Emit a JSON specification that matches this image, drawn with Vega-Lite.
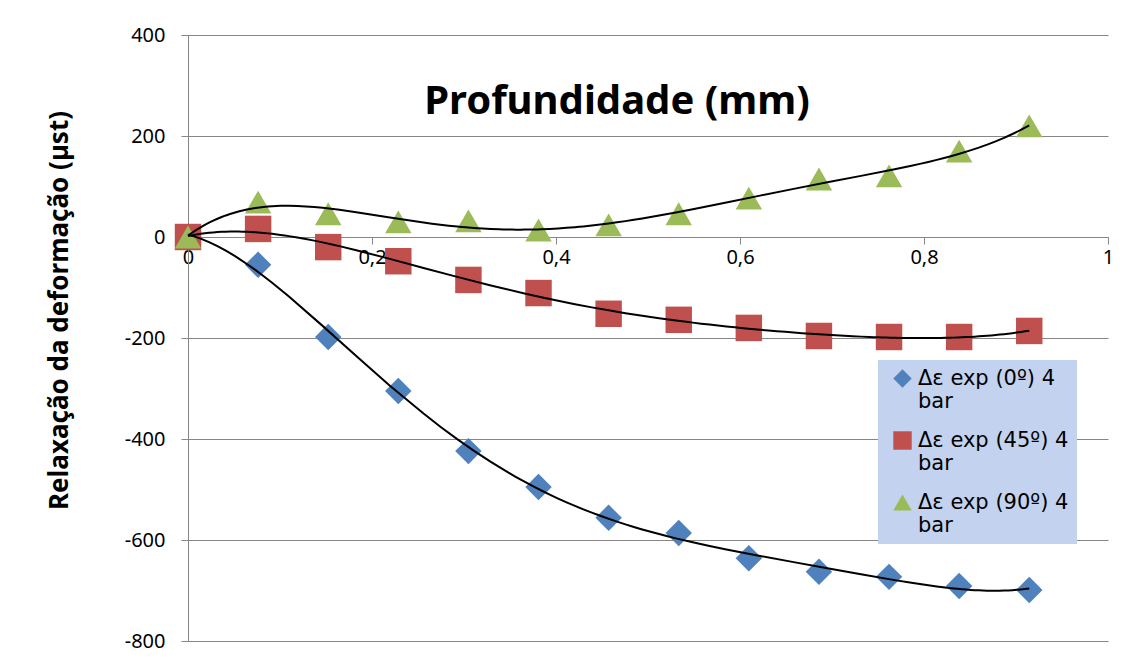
{
  "$schema": "https://vega.github.io/schema/vega-lite/v6.json",
  "width": 920,
  "height": 606,
  "autosize": {"type": "none"},
  "padding": {"left": 188, "top": 35, "right": 16, "bottom": 18},
  "background": "white",
  "title": {
    "text": "Profundidade (mm)",
    "orient": "top",
    "anchor": "middle",
    "offset": -129,
    "baseline": "alphabetic",
    "font": "Noto Sans",
    "fontSize": 40,
    "fontWeight": "bold",
    "color": "black",
    "dx": -31
  },
  "config": {"view": {"stroke": null}, "font": "Noto Sans"},
  "data": {
    "values": [
      {"x": 0, "y": 0, "serie": "Δε exp (0º) 4 bar"},
      {"x": 0.0762, "y": -55, "serie": "Δε exp (0º) 4 bar"},
      {"x": 0.1524, "y": -198, "serie": "Δε exp (0º) 4 bar"},
      {"x": 0.2286, "y": -305, "serie": "Δε exp (0º) 4 bar"},
      {"x": 0.3048, "y": -424, "serie": "Δε exp (0º) 4 bar"},
      {"x": 0.381, "y": -495, "serie": "Δε exp (0º) 4 bar"},
      {"x": 0.4572, "y": -556, "serie": "Δε exp (0º) 4 bar"},
      {"x": 0.5334, "y": -586, "serie": "Δε exp (0º) 4 bar"},
      {"x": 0.6096, "y": -636, "serie": "Δε exp (0º) 4 bar"},
      {"x": 0.6858, "y": -663, "serie": "Δε exp (0º) 4 bar"},
      {"x": 0.762, "y": -673, "serie": "Δε exp (0º) 4 bar"},
      {"x": 0.8382, "y": -691, "serie": "Δε exp (0º) 4 bar"},
      {"x": 0.9144, "y": -699, "serie": "Δε exp (0º) 4 bar"},
      {"x": 0, "y": 0, "serie": "Δε exp (45º) 4 bar"},
      {"x": 0.0762, "y": 16, "serie": "Δε exp (45º) 4 bar"},
      {"x": 0.1524, "y": -20, "serie": "Δε exp (45º) 4 bar"},
      {"x": 0.2286, "y": -48, "serie": "Δε exp (45º) 4 bar"},
      {"x": 0.3048, "y": -85, "serie": "Δε exp (45º) 4 bar"},
      {"x": 0.381, "y": -111, "serie": "Δε exp (45º) 4 bar"},
      {"x": 0.4572, "y": -152, "serie": "Δε exp (45º) 4 bar"},
      {"x": 0.5334, "y": -164, "serie": "Δε exp (45º) 4 bar"},
      {"x": 0.6096, "y": -180, "serie": "Δε exp (45º) 4 bar"},
      {"x": 0.6858, "y": -196, "serie": "Δε exp (45º) 4 bar"},
      {"x": 0.762, "y": -198, "serie": "Δε exp (45º) 4 bar"},
      {"x": 0.8382, "y": -198, "serie": "Δε exp (45º) 4 bar"},
      {"x": 0.9144, "y": -186, "serie": "Δε exp (45º) 4 bar"},
      {"x": 0, "y": 0, "serie": "Δε exp (90º) 4 bar"},
      {"x": 0.0762, "y": 69, "serie": "Δε exp (90º) 4 bar"},
      {"x": 0.1524, "y": 46, "serie": "Δε exp (90º) 4 bar"},
      {"x": 0.2286, "y": 30, "serie": "Δε exp (90º) 4 bar"},
      {"x": 0.3048, "y": 32, "serie": "Δε exp (90º) 4 bar"},
      {"x": 0.381, "y": 14, "serie": "Δε exp (90º) 4 bar"},
      {"x": 0.4572, "y": 24, "serie": "Δε exp (90º) 4 bar"},
      {"x": 0.5334, "y": 46, "serie": "Δε exp (90º) 4 bar"},
      {"x": 0.6096, "y": 77, "serie": "Δε exp (90º) 4 bar"},
      {"x": 0.6858, "y": 115, "serie": "Δε exp (90º) 4 bar"},
      {"x": 0.762, "y": 121, "serie": "Δε exp (90º) 4 bar"},
      {"x": 0.8382, "y": 170, "serie": "Δε exp (90º) 4 bar"},
      {"x": 0.9144, "y": 220, "serie": "Δε exp (90º) 4 bar"}
    ]
  },
  "layer": [
    {
      "mark": {"type": "point", "filled": true, "opacity": 1, "size": 700},
      "encoding": {
        "x": {
          "field": "x",
          "type": "quantitative",
          "scale": {"domain": [0, 1]},
          "axis": {
            "values": [0, 0.2, 0.4, 0.6, 0.8, 1],
            "format": "~g",
            "labelExpr": "replace(datum.label, '.', ',')",
            "offset": -404,
            "grid": false,
            "title": null,
            "labelFlush": false,
            "labelFont": "Noto Sans",
            "labelFontSize": 20,
            "labelColor": "black",
            "labelPadding": 3,
            "tickSize": 7,
            "tickColor": "#868686",
            "domainColor": "#868686"
          }
        },
        "y": {
          "field": "y",
          "type": "quantitative",
          "scale": {"domain": [-800, 400]},
          "axis": {
            "title": "Relaxação da deformação (µst)",
            "values": [-800, -600, -400, -200, 0, 200, 400],
            "labelExpr": "toString(datum.value)",
            "labelFont": "Noto Sans",
            "labelFontSize": 20,
            "labelColor": "black",
            "labelPadding": 16,
            "tickSize": 7,
            "tickColor": "#868686",
            "domainColor": "#868686",
            "grid": true,
            "gridColor": "#868686",
            "titleFont": "Noto Sans",
            "titleFontSize": 26,
            "titleFontWeight": "bold",
            "titleColor": "black",
            "titleX": -121,
            "titleY": 275,
            "titleBaseline": "alphabetic"
          }
        },
        "color": {
          "field": "serie",
          "type": "nominal",
          "scale": {
            "domain": ["Δε exp (0º) 4 bar", "Δε exp (45º) 4 bar", "Δε exp (90º) 4 bar"],
            "range": ["#4f81bd", "#c0504d", "#9bbb59"]
          },
          "legend": {
            "title": null,
            "orient": "none",
            "legendX": 690,
            "legendY": 325,
            "padding": 8,
            "symbolOffset": 6,
            "fillColor": "#c3d3ef",
            "labelFont": "DejaVu Sans",
            "labelFontSize": 21,
            "labelColor": "black",
            "labelExpr": "[slice(datum.label, 0, -4), 'bar']",
            "labelOffset": 5,
            "labelLimit": 0,
            "symbolSize": 340,
            "rowPadding": 17
          }
        },
        "shape": {
          "field": "serie",
          "type": "nominal",
          "scale": {
            "domain": ["Δε exp (0º) 4 bar", "Δε exp (45º) 4 bar", "Δε exp (90º) 4 bar"],
            "range": ["diamond", "square", "triangle-up"]
          },
          "legend": null
        }
      }
    },
    {
      "transform": [
        {"regression": "y", "on": "x", "groupby": ["serie"], "method": "poly", "order": 5, "extent": [0, 0.9144]}
      ],
      "mark": {"type": "line", "color": "black", "strokeWidth": 2},
      "encoding": {
        "x": {"field": "x", "type": "quantitative"},
        "y": {"field": "y", "type": "quantitative"},
        "detail": {"field": "serie"}
      }
    }
  ]
}
